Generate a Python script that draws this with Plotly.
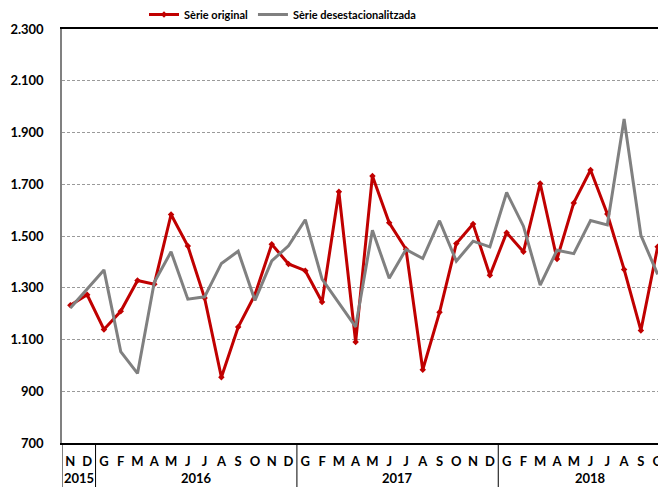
import plotly.graph_objects as go

# month letters (Catalan initials), Nov 2015 .. Oct 2018
months = ["N", "D",
          "G", "F", "M", "A", "M", "J", "J", "A", "S", "O", "N", "D",
          "G", "F", "M", "A", "M", "J", "J", "A", "S", "O", "N", "D",
          "G", "F", "M", "A", "M", "J", "J", "A", "S", "O"]
years = ["2015", "2016", "2017", "2018"]
year_centres = [0.5, 7.5, 19.5, 31.0]
year_breaks = [-0.5, 1.5, 13.5, 25.5]

original = [1232, 1273, 1139, 1209, 1328, 1314, 1583, 1461, 1260, 954, 1148, 1273,
            1468, 1392, 1366, 1245, 1671, 1090, 1732, 1551, 1449, 983, 1205, 1471,
            1546, 1348, 1513, 1439, 1703, 1411, 1628, 1755, 1585, 1371, 1135, 1458]
desest = [1222, 1296, 1369, 1053, 969, 1321, 1439, 1256, 1265, 1394, 1441, 1251,
          1404, 1462, 1563, 1333, 1241, 1149, 1522, 1337, 1448, 1413, 1559, 1403,
          1480, 1458, 1668, 1538, 1310, 1445, 1432, 1560, 1543, 1952, 1503, 1352]

xs = list(range(len(months)))
font = "Lato, 'Open Sans', sans-serif"

fig = go.Figure()

fig.add_trace(go.Scatter(
    x=xs, y=original, mode="lines+markers",
    name="<b>Sèrie original</b>",
    line=dict(color="#C00000", width=3),
    marker=dict(symbol="diamond", size=5, color="#C00000"),
))
fig.add_trace(go.Scatter(
    x=xs, y=desest, mode="lines",
    name="<b>Sèrie desestacionalitzada</b>",
    line=dict(color="#808080", width=3),
))

# year labels and group separators under the month axis
for yr, c in zip(years, year_centres):
    fig.add_annotation(x=c, y=-0.084, xref="x", yref="paper", text=f"<b>{yr}</b>",
                       showarrow=False, yanchor="middle",
                       font=dict(family=font, size=13, color="#000"))
for b in year_breaks:
    fig.add_shape(type="line", xref="x", yref="paper", x0=b, x1=b, y0=0, y1=-0.11,
                  line=dict(color="#000", width=1))

fig.update_layout(
    width=658, height=487,
    margin=dict(l=62, r=0, t=25, b=44),
    plot_bgcolor="white", paper_bgcolor="white",
    separators=",.",
    font=dict(family=font, size=13, color="#000"),
    showlegend=True,
    legend=dict(orientation="h", x=0.37, xanchor="center", y=1.0, yanchor="bottom",
                font=dict(family=font, size=11, color="#000"),
                bgcolor="rgba(0,0,0,0)", itemwidth=30, tracegroupgap=0),
    xaxis=dict(
        range=[-0.5, 35.02], automargin=False,
        tickmode="array", tickvals=xs, ticktext=[f"<b>{m}</b>" for m in months],
        ticklabeloverflow="allow",
        showgrid=False, zeroline=False,
        showline=True, linecolor="#000", linewidth=1.5, mirror=True,
        ticks="", ticklabelstandoff=6,
        tickfont=dict(family=font, size=13, color="#000"),
    ),
    yaxis=dict(
        range=[700, 2300], dtick=200, tick0=700, automargin=False,
        tickformat=",.0f",
        showgrid=True, gridcolor="#9a9a9a", gridwidth=1, griddash="3px,2px",
        zeroline=False,
        showline=True, linecolor="#808080", linewidth=1.5,
        ticks="", ticklabelstandoff=14,
        tickfont=dict(family=font, size=13, color="#000", weight="bold"),
    ),
)

# the page body has a default 8px margin; remove it so the chart sits at the corner
fig.write_html("out.html", config={"displayModeBar": False},
               post_script="document.body.style.margin='0';")
